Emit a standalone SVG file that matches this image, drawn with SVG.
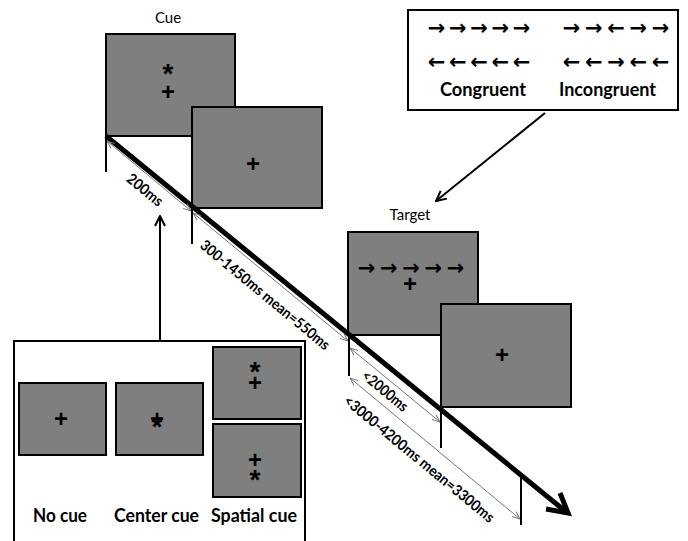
<svg xmlns="http://www.w3.org/2000/svg" width="688" height="541" viewBox="0 0 688 541">
<style>
.scr{fill:#7f7f7f;stroke:#000;stroke-width:2}
.tick{stroke:#000;stroke-width:2;fill:none}
.dim{stroke:#777;stroke-width:1;fill:none;marker-start:url(#dm);marker-end:url(#dm)}
.lbl{font-family:Lato,"Liberation Sans",sans-serif;font-weight:bold;fill:#000}
.ttl{font-family:Lato,"Liberation Sans",sans-serif;font-size:15px;fill:#000;text-anchor:middle}
.big{font-size:19px;text-anchor:middle}
.rot{font-size:15px;text-anchor:middle}
.sym{font-family:"Liberation Sans",sans-serif;font-weight:bold;font-size:24px;text-anchor:middle;fill:#000}
.ast{font-family:"Liberation Sans",sans-serif;font-weight:bold;font-size:28px;text-anchor:middle;fill:#000}
.arw{font-family:"DejaVu Sans",sans-serif;font-weight:bold;font-size:21px;text-anchor:middle;fill:#000}
</style>
<defs>
<marker id="ah" viewBox="0 0 12 12" refX="11" refY="6" markerWidth="12" markerHeight="12" markerUnits="userSpaceOnUse" orient="auto">
<path d="M1,1 L11,6 L1,11" fill="none" stroke="#000" stroke-width="2"/>
</marker>
<marker id="dm" viewBox="0 0 10 10" refX="10" refY="5" markerWidth="8" markerHeight="8" markerUnits="userSpaceOnUse" orient="auto-start-reverse">
<path d="M0,1 L10,5 L0,9" fill="none" stroke="#777" stroke-width="1.2"/>
</marker>
</defs>

<g id="cue-label"><text class="ttl" x="168" y="23">Cue</text></g>
<g id="cue-screen"><rect class="scr" x="106" y="34" width="129" height="102"/>
<text class="ast" x="168" y="83">*</text><text class="sym" x="168" y="100">+</text></g>
<g id="fixation-screen"><rect class="scr" x="192" y="107" width="130" height="101"/>
<text class="sym" x="253" y="172">+</text></g>

<g id="target-label"><text class="ttl" x="410" y="220">Target</text></g>
<g id="target-screen"><rect class="scr" x="348" y="232" width="130" height="103"/>
<text class="arw" x="366.5 388.75 411 433.25 455.5" y="275">→→→→→</text>
<text class="sym" x="410" y="292">+</text></g>
<g id="post-screen"><rect class="scr" x="441" y="304" width="130" height="103"/>
<text class="sym" x="502" y="363">+</text></g>

<g id="legend-flanker"><rect x="408" y="10" width="270" height="100" fill="#fff" stroke="#000" stroke-width="2"/>
<text class="arw" x="436.5 457.75 479 500.25 521.5" y="35">→→→→→</text>
<text class="arw" x="571.5 593.75 616 638.25 660.5" y="35">→→←→→</text>
<text class="arw" x="436.5 457.75 479 500.25 521.5" y="69">←←←←←</text>
<text class="arw" x="571.5 593.75 616 638.25 660.5" y="69">←←→←←</text>
<text class="lbl big" x="483" y="96" textLength="86" lengthAdjust="spacingAndGlyphs">Congruent</text>
<text class="lbl big" x="607.5" y="96" textLength="97" lengthAdjust="spacingAndGlyphs">Incongruent</text></g>

<g id="legend-cues"><rect x="14" y="341" width="291" height="210" fill="#fff" stroke="#000" stroke-width="2"/>
<rect class="scr" x="19" y="383" width="87" height="72"/><text class="sym" x="61" y="427">+</text>
<rect class="scr" x="116" y="383" width="87" height="72"/><text class="ast" x="157" y="436">*</text><text class="sym" x="157" y="427">+</text>
<rect class="scr" x="213" y="347" width="88" height="72"/><text class="ast" x="255" y="381">*</text><text class="sym" x="255" y="391">+</text>
<rect class="scr" x="213" y="424" width="88" height="73"/><text class="sym" x="255" y="468">+</text><text class="ast" x="255" y="489">*</text>
<text class="lbl big" x="60" y="522" textLength="54" lengthAdjust="spacingAndGlyphs">No cue</text>
<text class="lbl big" x="156.5" y="522" textLength="85" lengthAdjust="spacingAndGlyphs">Center cue</text>
<text class="lbl big" x="254" y="522" textLength="86" lengthAdjust="spacingAndGlyphs">Spatial cue</text></g>

<g id="connectors">
<line x1="106" y1="136" x2="565" y2="511" stroke="#000" stroke-width="5"/>
<path d="M546,509 L568,513 L560,493" fill="none" stroke="#000" stroke-width="5" stroke-linejoin="miter"/>
<line class="tick" x1="106" y1="136" x2="106" y2="172"/>
<line class="tick" x1="192" y1="208" x2="192" y2="244"/>
<line class="tick" x1="349" y1="335" x2="349" y2="376"/>
<line class="tick" x1="441" y1="407" x2="441" y2="448"/>
<line class="tick" x1="521" y1="476" x2="521" y2="525"/>
<line class="dim" x1="107" y1="141" x2="191" y2="211"/>
<line class="dim" x1="193" y1="213" x2="348" y2="341"/>
<line class="dim" x1="350" y1="348" x2="440" y2="422"/>
<line class="dim" x1="350" y1="378" x2="520" y2="519"/>
<line x1="545" y1="113" x2="436" y2="201" stroke="#000" stroke-width="2" marker-end="url(#ah)"/>
<line x1="160" y1="341" x2="160" y2="216" stroke="#000" stroke-width="2" marker-end="url(#ah)"/>
<text class="lbl rot" transform="translate(145,190) rotate(39.5)" y="5" textLength="42" lengthAdjust="spacingAndGlyphs">200ms</text>
<text class="lbl rot" transform="translate(265,295) rotate(39.5)" y="5" textLength="163" lengthAdjust="spacingAndGlyphs">300-1450ms mean=550ms</text>
<text class="lbl rot" transform="translate(385,391) rotate(39.5)" y="5" textLength="55" lengthAdjust="spacingAndGlyphs">&lt;2000ms</text>
<text class="lbl rot" transform="translate(419,459) rotate(39.5)" y="5" textLength="190" lengthAdjust="spacingAndGlyphs">&lt;3000-4200ms mean=3300ms</text>
</g>
</svg>
